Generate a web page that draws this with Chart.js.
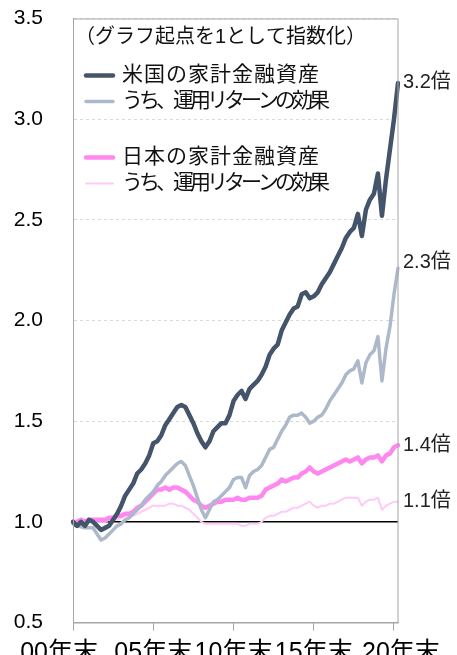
<!DOCTYPE html>
<html>
<head>
<meta charset="utf-8">
<script src="https://cdn.jsdelivr.net/npm/chart.js@4.4.0/dist/chart.umd.min.js"></script>
<style>
  html, body { margin: 0; padding: 0; background: #fff; overflow: hidden; }
  #wrap { width: 457px; height: 680px; position: relative; }
</style>
</head>
<body>
<div id="wrap"><canvas id="chart"></canvas></div>
<script>
// quarterly, 2000 Q4 (00年末) .. 2021 Q1
var quarters = [];
for (var y = 2000; y <= 2021; y++) {
    for (var q = 1; q <= 4; q++) {
        if ((y === 2000 && q < 4) || (y === 2021 && q > 1)) continue;
        quarters.push(y + 'Q' + q);
    }
}
var tickLabels = { '2000Q4': '00年末    ', '2005Q4': '05年末', '2010Q4': '10年末', '2015Q4': '15年末', '2020Q4': '  20年末' };

var usTotal = [1.00, 0.98, 1.00, 0.98, 1.01, 1.00, 0.98, 0.96, 0.97, 0.98,
    1.01, 1.04, 1.08, 1.13, 1.16, 1.19, 1.24, 1.26, 1.29, 1.33,
    1.39, 1.40, 1.43, 1.48, 1.51, 1.54, 1.57, 1.58, 1.57, 1.53,
    1.49, 1.44, 1.40, 1.37, 1.40, 1.45, 1.47, 1.49, 1.49, 1.53,
    1.60, 1.63, 1.65, 1.61, 1.66, 1.68, 1.70, 1.73, 1.77, 1.83,
    1.86, 1.88, 1.95, 1.99, 2.03, 2.06, 2.07, 2.13, 2.14, 2.11,
    2.12, 2.14, 2.18, 2.21, 2.24, 2.28, 2.32, 2.36, 2.41, 2.44,
    2.46, 2.53, 2.42, 2.55, 2.60, 2.63, 2.73, 2.52, 2.70, 2.85,
    3.00, 3.18];
var usReturn = [0.99, 0.98, 0.975, 0.97, 0.97, 0.97, 0.94, 0.91, 0.92, 0.94,
    0.96, 0.98, 0.99, 1.01, 1.02, 1.04, 1.06, 1.08, 1.11, 1.13,
    1.15, 1.18, 1.20, 1.23, 1.25, 1.27, 1.29, 1.30, 1.28, 1.23,
    1.18, 1.12, 1.06, 1.02, 1.06, 1.10, 1.11, 1.13, 1.15, 1.17,
    1.21, 1.22, 1.22, 1.17, 1.23, 1.25, 1.26, 1.28, 1.32, 1.36,
    1.37, 1.41, 1.45, 1.48, 1.52, 1.53, 1.53, 1.54, 1.52, 1.49,
    1.50, 1.52, 1.53, 1.56, 1.60, 1.63, 1.66, 1.69, 1.73, 1.75,
    1.76, 1.80, 1.69, 1.79, 1.83, 1.85, 1.92, 1.70, 1.86, 1.97,
    2.13, 2.26];
var jpTotal = [1.00, 1.00, 1.01, 1.00, 1.01, 1.01, 1.01, 1.01, 1.01, 1.02,
    1.02, 1.03, 1.03, 1.04, 1.04, 1.05, 1.07, 1.08, 1.10, 1.12,
    1.14, 1.16, 1.16, 1.17, 1.16, 1.17, 1.17, 1.16, 1.15, 1.13,
    1.11, 1.10, 1.08, 1.07, 1.08, 1.09, 1.10, 1.10, 1.11, 1.11,
    1.11, 1.12, 1.11, 1.11, 1.12, 1.12, 1.12, 1.13, 1.16, 1.17,
    1.18, 1.19, 1.21, 1.20, 1.21, 1.22, 1.22, 1.24, 1.25, 1.27,
    1.25, 1.24, 1.25, 1.26, 1.27, 1.28, 1.29, 1.30, 1.31, 1.30,
    1.31, 1.32, 1.29, 1.31, 1.32, 1.32, 1.33, 1.30, 1.33, 1.34,
    1.37, 1.38];
var jpReturn = [1.00, 1.00, 1.00, 1.00, 1.00, 1.00, 1.00, 1.00, 1.00, 1.01,
    1.01, 1.01, 1.02, 1.03, 1.03, 1.03, 1.04, 1.05, 1.06, 1.07,
    1.08, 1.08, 1.08, 1.08, 1.09, 1.09, 1.08, 1.08, 1.07, 1.06,
    1.04, 1.02, 1.00, 0.99, 0.99, 0.99, 0.99, 0.99, 0.99, 0.99,
    0.99, 0.99, 0.98, 0.98, 0.99, 0.99, 0.99, 1.00, 1.02, 1.03,
    1.03, 1.04, 1.05, 1.05, 1.06, 1.07, 1.07, 1.08, 1.09, 1.10,
    1.08, 1.07, 1.08, 1.08, 1.09, 1.09, 1.10, 1.11, 1.12, 1.12,
    1.12, 1.12, 1.08, 1.10, 1.11, 1.11, 1.12, 1.06, 1.08, 1.09,
    1.10, 1.10];

var seriesNames = ['米国の家計金融資産', 'うち、運用リターンの効果', '日本の家計金融資産', 'うち、運用リターンの効果'];
var endLabels = ['3.2倍', '2.3倍', '1.4倍', '1.1倍'];
var legendTitle = '（グラフ起点を1として指数化）';

var FONT = '"Liberation Sans", Arial, "Noto Sans CJK JP", sans-serif';

// black reference line at 1.0, plot box, end labels and legend
var framePlugin = {
    id: 'frame',
    beforeDatasetsDraw: function (chart) {
        var ctx = chart.ctx, a = chart.chartArea;
        var y1 = chart.scales.y.getPixelForValue(1);
        ctx.save();
        ctx.strokeStyle = '#000';
        ctx.lineWidth = 1.5;
        ctx.beginPath();
        ctx.moveTo(a.left, y1);
        ctx.lineTo(a.right, y1);
        ctx.stroke();
        ctx.restore();
    },
    afterDraw: function (chart) {
        var ctx = chart.ctx, a = chart.chartArea;
        ctx.save();
        ctx.strokeStyle = '#a6a6a6';
        ctx.lineWidth = 1;
        ctx.strokeRect(a.left + 0.5, a.top + 0.5, a.right - a.left - 0.5, a.bottom - a.top);

        ctx.fillStyle = '#222';
        ctx.font = '20px ' + FONT;
        ctx.textBaseline = 'middle';
        ctx.textAlign = 'left';
        chart.data.datasets.forEach(function (ds, i) {
            var pts = chart.getDatasetMeta(i).data;
            var p = pts[pts.length - 1];
            ctx.fillText(endLabels[i], p.x + 5, p.y - (i === 1 ? 6 : 0));
        });

        ctx.fillStyle = '#111';
        ctx.font = '20px ' + FONT;
        ctx.fillText(legendTitle, a.left + 2, a.top + 19);
        var rows = [a.top + 57, a.top + 83, a.top + 139, a.top + 165];
        chart.data.datasets.forEach(function (ds, i) {
            var ry = rows[i];
            ctx.strokeStyle = ds.borderColor;
            ctx.lineWidth = ds.borderWidth;
            ctx.lineCap = 'round';
            ctx.beginPath();
            ctx.moveTo(a.left + 13, ry);
            ctx.lineTo(a.left + 40, ry);
            ctx.stroke();
            ctx.font = '21px ' + FONT;
            ctx.letterSpacing = (i % 2 === 0) ? '1px' : '-4px';
            ctx.fillText(ds.label, a.left + 49, ry);
            ctx.letterSpacing = '0px';
        });
        ctx.restore();
    }
};

function line(label, data, color, width) {
    return {
        label: label,
        data: data,
        borderColor: color,
        backgroundColor: color,
        borderWidth: width,
        pointRadius: 0,
        tension: 0,
        fill: false,
        borderJoinStyle: 'round',
        borderCapStyle: 'round'
    };
}

var chart = new Chart(document.getElementById('chart').getContext('2d'), {
    type: 'line',
    data: {
        labels: quarters,
        datasets: [
            line(seriesNames[0], usTotal, '#44546A', 4.5),
            line(seriesNames[1], usReturn, '#ADB9CA', 3.5),
            line(seriesNames[2], jpTotal, '#FF88F0', 4.5),
            line(seriesNames[3], jpReturn, '#FFCAF8', 2)
        ]
    },
    plugins: [framePlugin],
    options: {
        responsive: true,
        maintainAspectRatio: false,
        animation: false,
        layout: { padding: { top: 18.5, right: 59, left: 0, bottom: 0 } },
        plugins: {
            legend: { display: false },
            tooltip: { enabled: false }
        },
        scales: {
            x: {
                type: 'category',
                offset: false,
                afterFit: function (s) { s.height = 57.5; s.paddingLeft = 0; s.paddingRight = 0; },
                grid: {
                    drawOnChartArea: false,
                    drawTicks: true,
                    tickLength: 8,
                    color: function (c) {
                        return tickLabels[quarters[c.index]] ? '#a6a6a6' : 'transparent';
                    }
                },
                border: { color: '#a6a6a6', width: 1 },
                ticks: {
                    autoSkip: false,
                    maxRotation: 0,
                    padding: 8,
                    color: '#000',
                    font: { family: FONT, size: 25 },
                    callback: function (v, i) { return tickLabels[quarters[i]] || ''; }
                }
            },
            y: {
                min: 0.5,
                max: 3.5,
                afterFit: function (s) { s.width = 73; s.paddingTop = 0; s.paddingBottom = 0; },
                grid: { color: '#d9d9d9', drawTicks: false, lineWidth: 1 },
                border: { color: '#a6a6a6', width: 1, dash: [3, 3] },
                ticks: {
                    stepSize: 0.5,
                    padding: 30,
                    color: '#000',
                    font: { family: FONT, size: 21 },
                    callback: function (v) { return v.toFixed(1); }
                }
            }
        }
    }
});
</script>
</body>
</html>
